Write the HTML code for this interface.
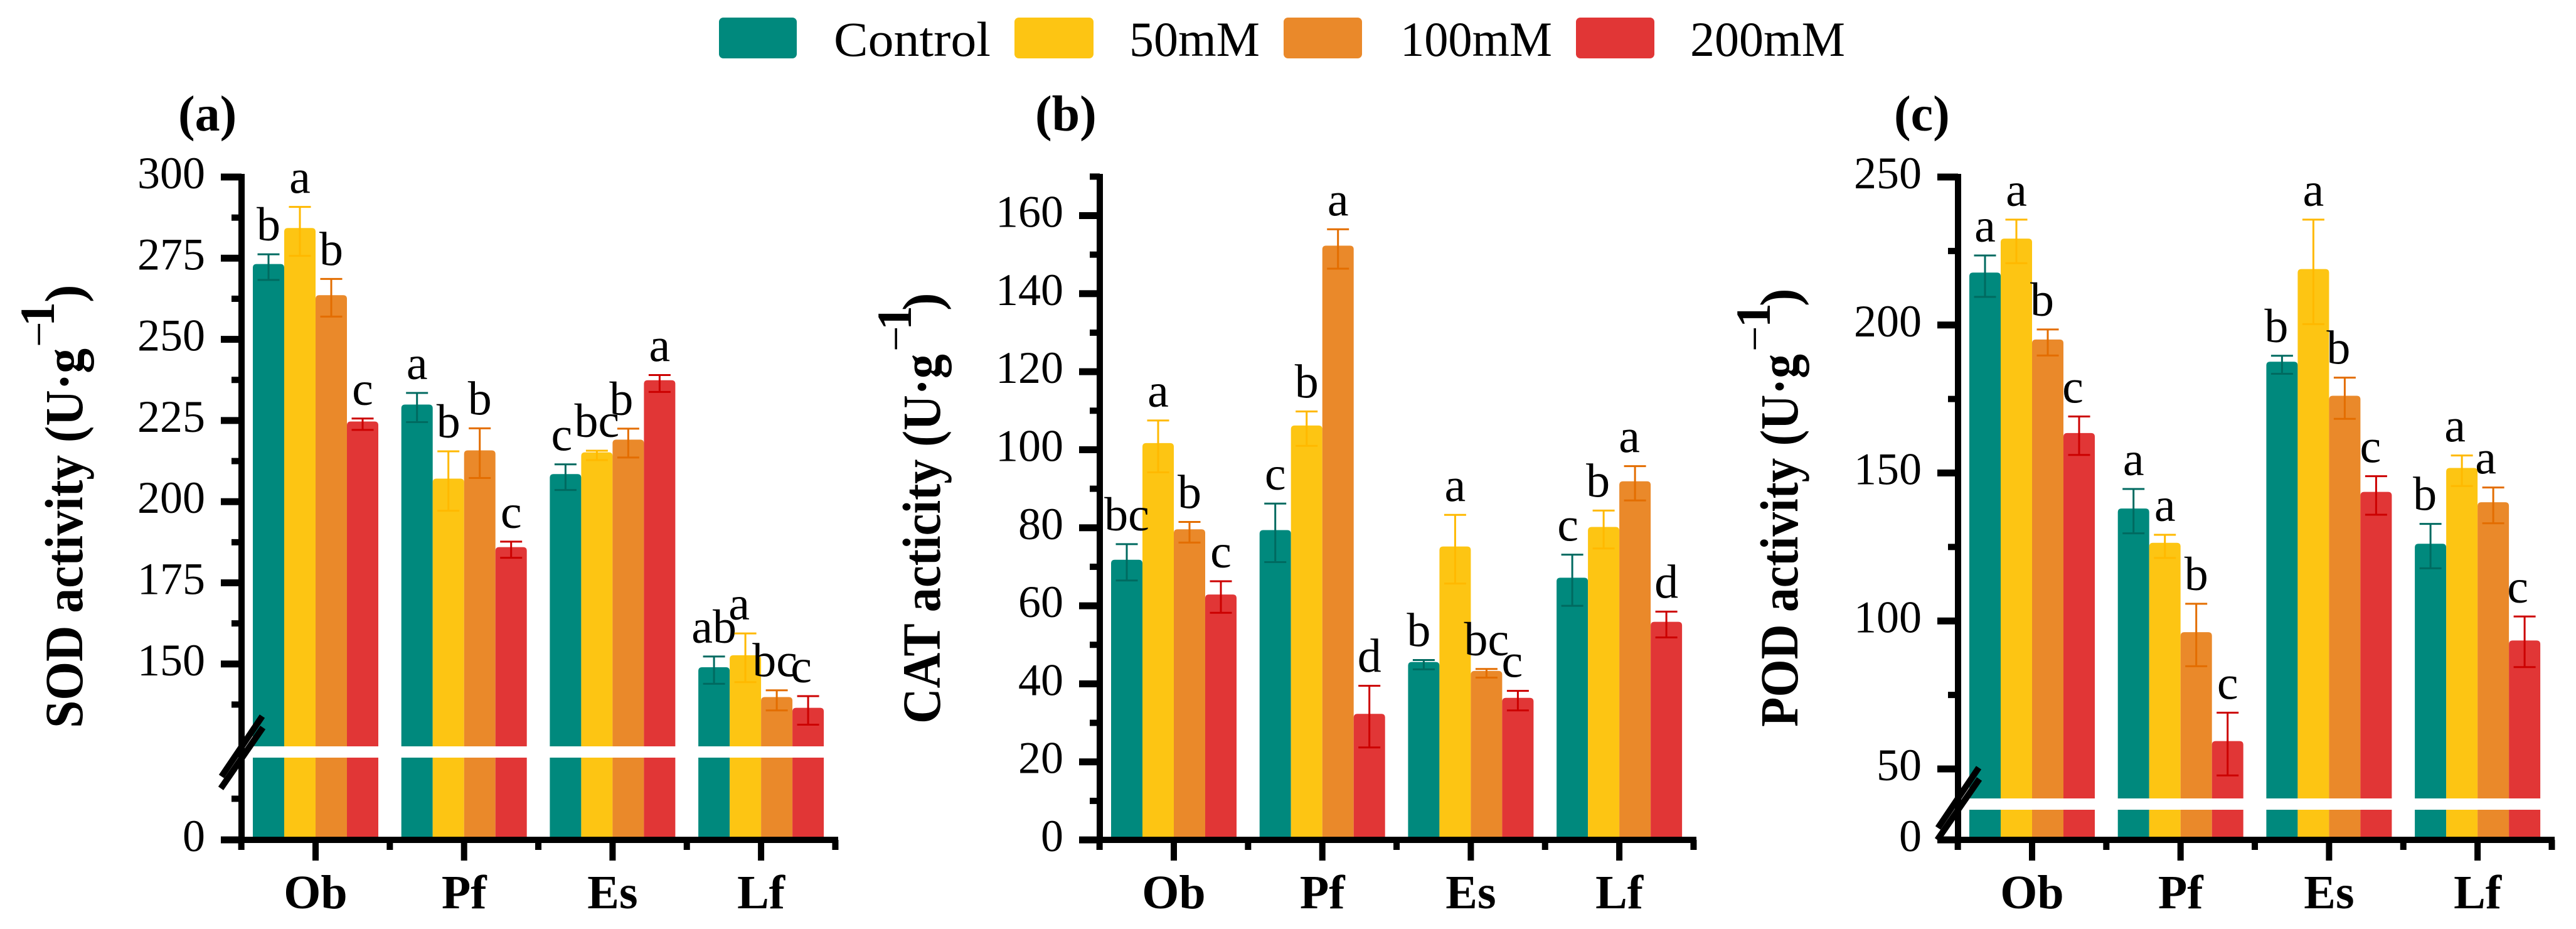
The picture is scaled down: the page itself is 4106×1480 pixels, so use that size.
<!DOCTYPE html>
<html lang="en">
<head>
<meta charset="utf-8">
<title>SOD, CAT and POD activity</title>
<style>
html,body{margin:0;padding:0;background:#fff;}
svg{display:block;}
text{font-family:"Liberation Serif",serif;fill:#000;}
</style>
</head>
<body>
<svg id="chart" xmlns="http://www.w3.org/2000/svg" width="4106" height="1480" viewBox="0 0 4106 1480">
  <rect x="0" y="0" width="4106" height="1480" fill="#ffffff"/>
  <g>
    <rect x="1146" y="28" width="124" height="65" rx="7" fill="#00897d"/>
    <text x="1329" y="89" font-size="78" textLength="250" lengthAdjust="spacingAndGlyphs">Control</text>
    <rect x="1617" y="28" width="126" height="65" rx="7" fill="#fdc513"/>
    <text x="1800" y="89" font-size="78" textLength="208" lengthAdjust="spacingAndGlyphs">50mM</text>
    <rect x="2046" y="28" width="125" height="65" rx="7" fill="#ea892a"/>
    <text x="2232" y="89" font-size="78" textLength="242" lengthAdjust="spacingAndGlyphs">100mM</text>
    <rect x="2512" y="28" width="125" height="65" rx="7" fill="#e13636"/>
    <text x="2694" y="89" font-size="78" textLength="247" lengthAdjust="spacingAndGlyphs">200mM</text>
  </g>
</svg>
<script>
// ---------- shared categories ----------
const categories = ['Ob', 'Pf', 'Es', 'Lf'];
const seriesNames = ['control', '50mM', '100mM', '200mM'];

// ---------- (a) SOD activity ----------
const sodControl = [273.2, 229.9, 208.5, 149.0];
const sod50 = [284.3, 207.1, 215.2, 152.7];
const sod100 = [263.6, 215.8, 219.1, 139.8];
const sod200 = [224.7, 186.0, 237.4, 136.5];
const sodControlUp = [3.0, 3.6, 3.0, 3.3];
const sod50Up = [6.5, 8.4, 0.5, 6.7];
const sod100Up = [5.0, 6.8, 3.4, 2.1];
const sod200Up = [0.9, 1.7, 1.6, 3.6];
const sodControlDown = [4.9, 5.4, 4.9, 5.1];
const sod50Down = [8.6, 9.9, 2.4, 8.3];
const sod100Down = [6.6, 8.5, 5.5, 4.1];
const sod200Down = [2.6, 3.3, 3.6, 5.2];
const sodLetters = [['b','a','b','c'], ['a','b','b','c'], ['c','bc','b','a'], ['ab','a','bc','c']];
const sodTicks = [0, 150, 175, 200, 225, 250, 275, 300];
const sodMinorTicks = [50, 137.5, 162.5, 187.5, 212.5, 237.5, 262.5, 287.5];

// ---------- (b) CAT activity ----------
const catControl = [71.8, 79.4, 45.6, 67.2];
const cat50 = [101.7, 106.2, 75.2, 80.2];
const cat100 = [79.6, 152.3, 43.3, 91.9];
const cat200 = [62.9, 32.3, 36.4, 55.9];
const catControlUp = [4.0, 6.8, 0.5, 5.9];
const cat50Up = [5.8, 3.6, 8.1, 4.2];
const cat100Up = [1.9, 4.2, 0.5, 3.9];
const cat200Up = [3.4, 7.2, 1.8, 2.6];
const catControlDown = [5.3, 8.2, 1.9, 7.2];
const cat50Down = [7.5, 5.2, 9.5, 5.5];
const cat100Down = [3.4, 5.9, 1.7, 4.9];
const cat200Down = [4.7, 8.6, 3.2, 4.0];
const catLetters = [['bc','a','b','c'], ['c','b','a','d'], ['b','a','bc','c'], ['c','b','a','d']];
const catTicks = [0, 20, 40, 60, 80, 100, 120, 140, 160];
const catMinorTicks = [10, 30, 50, 70, 90, 110, 130, 150, 170];

// ---------- (c) POD activity ----------
const podControl = [217.7, 138.0, 187.6, 126.1];
const pod50 = [229.2, 126.4, 218.9, 151.7];
const pod100 = [195.1, 96.2, 176.1, 140.1];
const pod200 = [163.5, 59.4, 143.6, 93.4];
const podControlUp = [5.8, 6.6, 2.0, 6.7];
const pod50Up = [6.4, 2.7, 16.7, 4.2];
const pod100Up = [3.4, 9.6, 6.1, 5.0];
const pod200Up = [5.6, 9.6, 5.3, 8.1];
const podControlDown = [8.2, 8.4, 4.1, 8.3];
const pod50Down = [8.3, 5.1, 18.6, 6.1];
const pod100Down = [5.4, 11.5, 7.8, 7.1];
const pod200Down = [7.4, 11.6, 7.7, 9.0];
const podLetters = [['a','a','b','c'], ['a','a','b','c'], ['b','a','b','c'], ['b','a','a','c']];
const podTicks = [0, 50, 100, 150, 200, 250];
const podMinorTicks = [75, 125, 175, 225];

// ---------- layout and drawing ----------
const NS = 'http://www.w3.org/2000/svg';
const svg = document.getElementById('chart');
const BASE_Y = 1338;
const barFill = ['#00897d', '#fdc513', '#ea892a', '#e13636'];
const errColor = ['#006a60', '#ffb900', '#e36d00', '#cc0000'];

function make(parent, tag, attrs, content) {
  const node = document.createElementNS(NS, tag);
  for (const key in attrs) node.setAttribute(key, attrs[key]);
  if (content !== undefined) node.textContent = content;
  parent.appendChild(node);
  return node;
}

// piecewise y-axis function; a broken axis has a lower and an upper linear segment
function makeScale(cfg) {
  return function (v) {
    if (cfg.breakTop === undefined || v >= cfg.breakTop) {
      return cfg.refY + (cfg.refValue - v) * cfg.pxPerUnit;
    }
    if (v <= cfg.breakBottom) {
      return BASE_Y - v * cfg.lowerPxPerUnit;
    }
    const yTop = cfg.refY + (cfg.refValue - cfg.breakTop) * cfg.pxPerUnit;
    const yBottom = BASE_Y - cfg.breakBottom * cfg.lowerPxPerUnit;
    return yBottom + (v - cfg.breakBottom) / (cfg.breakTop - cfg.breakBottom) * (yTop - yBottom);
  };
}

function drawPanel(cfg) {
  const dx = cfg.dx;
  const y = makeScale(cfg);
  const axisX = 385 + dx;
  const groupCenter = function (g) { return 503 + dx + g * 236.7; };
  const barX = function (g, s) { return groupCenter(g) - 100 + s * 50; };

  const panel = make(svg, 'g', {});
  
  

  // bars
  for (let s = 0; s < 4; s++) {
    for (let g = 0; g < categories.length; g++) {
      const x = barX(g, s);
      const top = y(cfg.means[s][g]);
      const r = 6;
      const d = 'M' + x + ' ' + (BASE_Y - 4) + 'V' + (top + r) + 'Q' + x + ' ' + top + ' ' + (x + r) + ' ' + top +
        'H' + (x + 50 - r) + 'Q' + (x + 50) + ' ' + top + ' ' + (x + 50) + ' ' + (top + r) + 'V' + (BASE_Y - 4) + 'Z';
      const bar = make(panel, 'path', { d: d, fill: barFill[s] });
      
      
    }
  }

  // white break band across the bars
  if (cfg.breakTop !== undefined) {
    const band = make(panel, 'rect', { x: axisX + 10, y: cfg.bandTop, width: 945, height: cfg.bandBottom - cfg.bandTop, fill: '#ffffff' });
    
    
  }

  // error bars and significance letters
  for (let s = 0; s < 4; s++) {
    for (let g = 0; g < categories.length; g++) {
      const cx = barX(g, s) + 25;
      const mean = cfg.means[s][g];
      const yUp = y(mean + cfg.ups[s][g]);
      const yDown = y(mean - cfg.downs[s][g]);
      const err = make(panel, 'g', { stroke: errColor[s], 'stroke-width': 3, fill: 'none' });
      
      
      make(err, 'line', { x1: cx, x2: cx, y1: yUp, y2: yDown });
      make(err, 'line', { x1: cx - 17.5, x2: cx + 17.5, y1: yUp, y2: yUp });
      make(err, 'line', { x1: cx - 17.5, x2: cx + 17.5, y1: yDown, y2: yDown });

      const shift = cfg.letterShift[g + '-' + s] || 0;
      const letter = make(panel, 'text', { x: cx + shift, y: yUp - 22, 'font-size': 76, 'text-anchor': 'middle' }, cfg.letters[g][s]);
      
      
    }
  }

  // y axis
  const yAxis = make(panel, 'g', { fill: '#000' });
  
  
  make(yAxis, 'rect', { x: axisX - 5, y: 277, width: 10, height: BASE_Y - 277 });
  cfg.ticks.forEach(function (t) {
    const ty = y(t);
    make(yAxis, 'rect', { x: axisX - 33, y: ty - 5.5, width: 33, height: 11 });
    const tickLabel = make(yAxis, 'text', { x: 327 + dx, y: ty + 18, 'font-size': 72, 'text-anchor': 'end' }, String(t));
    
    
  });
  cfg.minorTicks.forEach(function (t) {
    make(yAxis, 'rect', { x: axisX - 16, y: y(t) - 5, width: 16, height: 10 });
  });

  // x axis
  const xAxis = make(panel, 'g', { fill: '#000' });
  
  
  make(xAxis, 'rect', { x: 352 + dx, y: BASE_Y - 5, width: 984, height: 10 });
  categories.forEach(function (c, g) {
    const cx = groupCenter(g);
    make(xAxis, 'rect', { x: cx - 5, y: BASE_Y, width: 10, height: 33 });
    make(xAxis, 'rect', { x: cx - 236.7 / 2 - 5, y: BASE_Y, width: 10, height: 16 });
    const catLabel = make(xAxis, 'text', { x: cx, y: 1447, 'font-size': 76, 'font-weight': 'bold', 'text-anchor': 'middle' }, c);
    
    
  });
  make(xAxis, 'rect', { x: groupCenter(3) + 236.7 / 2 - 5, y: BASE_Y, width: 10, height: 16 });

  // axis break slash
  if (cfg.breakTop !== undefined) {
    const my = cfg.slashOffsetY;
    const slash = make(panel, 'g', { stroke: '#000', 'stroke-width': 10, fill: 'none' });
    
    
    make(slash, 'line', { x1: 353 + dx, y1: 1237 + my, x2: 418 + dx, y2: 1141 + my });
    make(slash, 'line', { x1: 352 + dx, y1: 1256 + my, x2: 419 + dx, y2: 1159 + my });
  }

  // panel letter
  const tag = make(panel, 'text', { x: cfg.tagX, y: 208, 'font-size': 80, 'font-weight': 'bold' }, cfg.tag);
  
  

  // y-axis title
  const t = cfg.title;
  const title = make(panel, 'text', { transform: 'translate(' + t.x + ',' + t.y + ') rotate(-90)', 'font-weight': 'bold', 'font-size': 86 });
  
  
  make(title, 'tspan', { x: 0, y: 0, textLength: t.length, lengthAdjust: 'spacingAndGlyphs' }, t.text);
  make(title, 'tspan', { x: t.minusAt, y: -t.raise, 'font-size': 72, 'font-weight': 'normal' }, '\u2212');
  make(title, 'tspan', { x: t.oneAt, y: -t.raise, 'font-size': 78 }, '1');
  make(title, 'tspan', { x: t.parenAt, y: 0 }, ')');
}

drawPanel({
  name: 'sod', tag: '(a)', tagX: 284, dx: 0,
  means: [sodControl, sod50, sod100, sod200],
  ups: [sodControlUp, sod50Up, sod100Up, sod200Up],
  downs: [sodControlDown, sod50Down, sod100Down, sod200Down],
  letters: sodLetters, ticks: sodTicks, minorTicks: sodMinorTicks,
  refValue: 300, refY: 282, pxPerUnit: 5.172,
  breakTop: 125, breakBottom: 100, lowerPxPerUnit: 1.31,
  bandTop: 1189, bandBottom: 1207, slashOffsetY: 0,
  letterShift: { '2-0': -6, '2-2': -11, '3-1': -10, '3-2': -3, '3-3': -11 },
  title: { text: 'SOD activity (U\u00B7g', x: 131, y: 1160, length: 605, raise: 45, minusAt: 607, oneAt: 640, parenAt: 678 }
});

drawPanel({
  name: 'cat', tag: '(b)', tagX: 1650, dx: 1368,
  means: [catControl, cat50, cat100, cat200],
  ups: [catControlUp, cat50Up, cat100Up, cat200Up],
  downs: [catControlDown, cat50Down, cat100Down, cat200Down],
  letters: catLetters, ticks: catTicks, minorTicks: catMinorTicks,
  refValue: 160, refY: 343.5, pxPerUnit: 6.216,
  letterShift: { '2-0': -8, '2-3': -9, '3-0': -7, '3-1': -9, '3-2': -9 },
  title: { text: 'CAT acticity (U\u00B7g', x: 1498, y: 1153, length: 589, raise: 46, minusAt: 593, oneAt: 627, parenAt: 658 }
});

drawPanel({
  name: 'pod', tag: '(c)', tagX: 3019, dx: 2736,
  means: [podControl, pod50, pod100, pod200],
  ups: [podControlUp, pod50Up, pod100Up, pod200Up],
  downs: [podControlDown, pod50Down, pod100Down, pod200Down],
  letters: podLetters, ticks: podTicks, minorTicks: podMinorTicks,
  refValue: 250, refY: 282, pxPerUnit: 4.715,
  breakTop: 36, breakBottom: 20, lowerPxPerUnit: 2.4,
  bandTop: 1272, bandBottom: 1290, slashOffsetY: 82,
  letterShift: { '0-2': -9, '0-3': -10, '2-0': -9, '2-2': -10, '2-3': -9, '3-0': -9, '3-1': -11, '3-2': -12, '3-3': -11 },
  title: { text: 'POD activity (U\u00B7g', x: 2865, y: 1158, length: 594, raise: 44, minusAt: 598, oneAt: 636, parenAt: 670 }
});
</script>
</body>
</html>
